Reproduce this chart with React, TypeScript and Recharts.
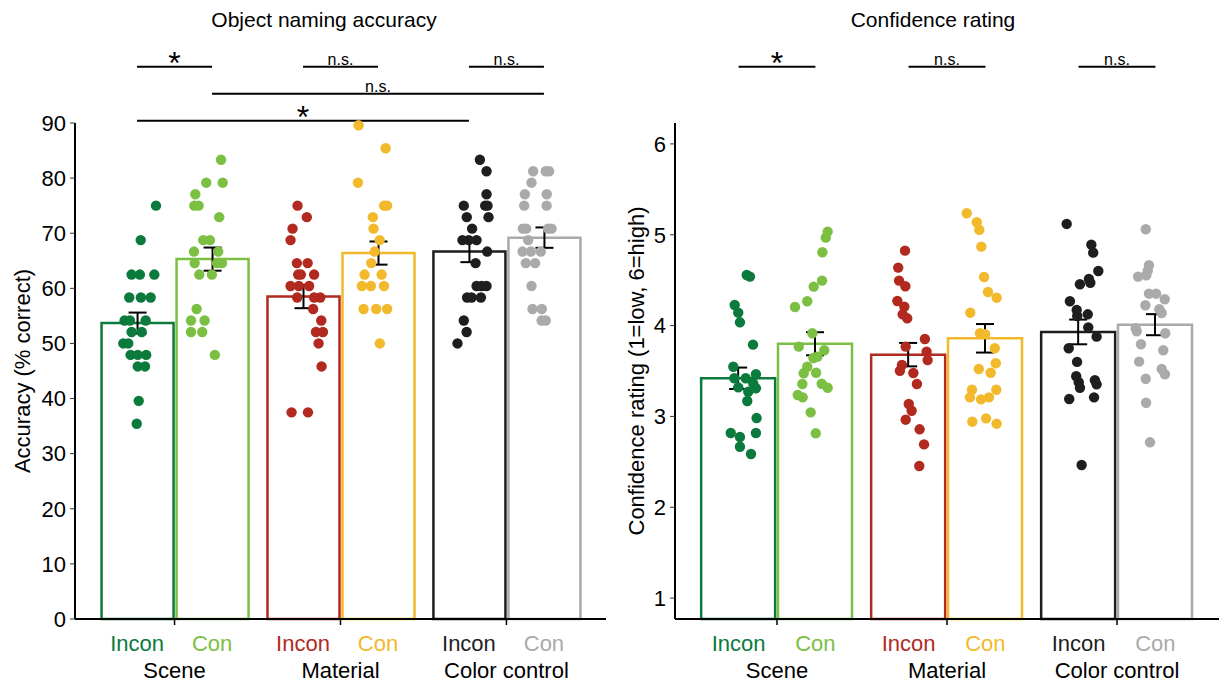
import React from 'react'
import { ComposedChart, Bar, Scatter, XAxis, YAxis, ErrorBar, Cell, ReferenceLine } from 'recharts'

const groups = ['Scene', 'Material', 'Color control']
const conditions = ['Incon', 'Con']
const barColors = ['#0b7a3d', '#7bc043', '#b1291f', '#f1b92b', '#1e1e1e', '#aaaaaa']

const accuracyMean = [53.7, 65.3, 58.5, 66.4, 66.7, 69.2]
const accuracySE = [1.9, 2.1, 2.1, 2.1, 1.95, 1.85]
const confidenceMean = [3.42, 3.8, 3.68, 3.86, 3.93, 4.01]
const confidenceSE = [0.118, 0.127, 0.129, 0.157, 0.136, 0.116]

const accuracyTicks = [0, 10, 20, 30, 40, 50, 60, 70, 80, 90]
const confidenceTicks = [1, 2, 3, 4, 5, 6]

// per bar: [jitter from bar centre, value]
const accuracyPoints: number[][][] = [
  [[0.114, 75], [0.022, 68.75], [-0.033, 62.5], [0.017, 62.5], [0.104, 62.5], [-0.047, 58.33], [0.023, 58.33], [0.082, 58.33],
    [-0.075, 54.17], [-0.043, 54.17], [0.052, 54.17], [-0.033, 52.08], [0.028, 52.08], [-0.083, 50], [-0.053, 50],
    [-0.039, 47.92], [0.004, 47.92], [0.055, 47.92], [0.004, 45.83], [0.048, 45.83], [0.01, 39.58], [-0.002, 35.42]],
  [[0.054, 83.33], [-0.035, 79.17], [0.064, 79.17], [-0.101, 77.08], [-0.107, 75], [-0.081, 75], [0.043, 72.92],
    [-0.053, 68.75], [-0.013, 68.75], [-0.109, 66.67], [0.037, 66.67], [-0.105, 64.58], [0.03, 64.58], [0.06, 64.58],
    [-0.077, 62.5], [-0.001, 62.5], [-0.093, 56.25], [-0.127, 54.17], [-0.045, 54.17], [-0.127, 52.08], [-0.059, 52.08], [0.017, 47.92]],
  [[-0.033, 75], [0.023, 72.92], [-0.063, 70.83], [-0.075, 68.75], [-0.037, 64.58], [0.028, 64.58], [-0.029, 62.5], [-0.013, 62.5],
    [0.067, 62.5], [-0.075, 60.42], [-0.025, 60.42], [0.037, 60.42], [-0.035, 58.33], [0.067, 58.33], [0.104, 58.33],
    [0.061, 56.25], [0.11, 54.17], [0.078, 52.08], [0.12, 52.08], [0.094, 50], [0.112, 45.83], [-0.069, 37.5], [0.03, 37.5]],
  [[-0.117, 89.58], [0.046, 85.42], [-0.121, 79.17], [0.037, 75], [0.055, 75], [-0.031, 72.92], [-0.027, 70.83], [0.01, 68.75],
    [-0.02, 66.67], [-0.041, 64.58], [-0.081, 62.5], [0.022, 62.5], [-0.097, 60.42], [-0.043, 60.42], [0.036, 60.42],
    [-0.087, 56.25], [-0.011, 56.25], [0.055, 56.25], [0.011, 50]],
  [[0.066, 83.33], [0.106, 81.25], [0.106, 77.08], [-0.031, 75], [0.098, 75], [0.112, 75], [-0.013, 72.92], [0.118, 72.92],
    [0.019, 70.83], [-0.039, 68.75], [-0.001, 68.75], [0.046, 68.75], [0.11, 66.67], [0.04, 64.58], [0.046, 60.42],
    [0.076, 60.42], [0.106, 60.42], [-0.011, 58.33], [0.016, 58.33], [0.072, 58.33], [-0.031, 54.17], [-0.014, 52.08], [-0.069, 50]],
  [[-0.065, 81.25], [0.011, 81.25], [0.031, 81.25], [-0.075, 79.17], [-0.115, 77.08], [0.017, 77.08], [-0.119, 75], [0.016, 75],
    [-0.127, 70.83], [-0.107, 70.83], [0.025, 70.83], [0.046, 70.83], [-0.095, 68.75], [-0.129, 66.67], [-0.079, 66.67],
    [-0.019, 66.67], [-0.109, 64.58], [-0.053, 64.58], [-0.075, 60.42], [-0.069, 56.25], [-0.013, 56.25], [-0.014, 54.17], [0.011, 54.17]],
]

const confidencePoints: number[][][] = [
  [[0.048, 4.557], [0.067, 4.539], [-0.023, 4.227], [-0.002, 4.142], [0.008, 4.036], [0.085, 3.79], [-0.031, 3.547],
    [-0.025, 3.42], [0.042, 3.42], [0.102, 3.464], [-0.002, 3.32], [0.057, 3.272], [0.102, 3.31], [0.086, 3.364],
    [0.051, 3.17], [0.106, 2.982], [-0.046, 2.817], [0.008, 2.773], [0.102, 2.817], [0.008, 2.666], [0.073, 2.586]],
  [[0.072, 5.034], [0.061, 4.968], [0.041, 4.807], [0.039, 4.495], [-0.01, 4.429], [-0.048, 4.268], [-0.12, 4.205],
    [-0.018, 3.915], [-0.098, 3.768], [0.052, 3.728], [-0.012, 3.643], [0.011, 3.657], [-0.048, 3.547], [-0.069, 3.475],
    [0.004, 3.481], [-0.077, 3.357], [0.037, 3.36], [0.072, 3.316], [-0.104, 3.236], [-0.075, 3.21], [-0.028, 3.045], [0.002, 2.814]],
  [[-0.021, 4.825], [-0.061, 4.638], [-0.056, 4.495], [-0.019, 4.433], [-0.066, 4.271], [-0.025, 4.208], [-0.035, 4.124],
    [-0.008, 4.08], [0.096, 3.852], [-0.017, 3.768], [0.106, 3.713], [0.112, 3.62], [-0.039, 3.566], [-0.051, 3.503],
    [0.028, 3.478], [0.049, 3.357], [0.001, 3.137], [0.018, 3.063], [-0.017, 2.964], [0.065, 2.858], [0.091, 2.692], [0.063, 2.454]],
  [[-0.11, 5.237], [-0.051, 5.138], [-0.036, 5.053], [-0.024, 4.869], [-0.008, 4.535], [0.015, 4.37], [0.066, 4.307],
    [-0.089, 4.142], [-0.032, 3.915], [-0.002, 3.904], [0.055, 3.75], [0.061, 3.585], [-0.039, 3.522], [0.031, 3.481],
    [-0.079, 3.294], [-0.091, 3.21], [0.064, 3.294], [0.021, 3.21], [-0.026, 3.188], [-0.077, 2.942], [0.004, 2.979], [0.066, 2.92]],
  [[-0.07, 5.119], [0.075, 4.891], [0.086, 4.803], [0.116, 4.601], [0.061, 4.513], [0.069, 4.472], [0.008, 4.455],
    [-0.051, 4.268], [-0.011, 4.172], [-0.008, 4.106], [0.054, 4.124], [0.057, 3.98], [0.106, 3.878], [-0.058, 3.75],
    [-0.009, 3.6], [-0.014, 3.442], [0.001, 3.376], [0.008, 3.316], [0.096, 3.398], [0.106, 3.353], [-0.055, 3.192],
    [0.091, 3.21], [0.018, 2.465]],
  [[-0.057, 5.06], [-0.038, 4.664], [-0.045, 4.605], [-0.102, 4.539], [-0.054, 4.554], [-0.038, 4.351], [0.004, 4.351],
    [0.055, 4.29], [-0.059, 4.224], [0.023, 4.18], [0.037, 4.139], [-0.116, 3.97], [-0.11, 3.937], [0.058, 3.915],
    [-0.085, 3.794], [0.046, 3.728], [-0.096, 3.603], [0.037, 3.522], [0.056, 3.464], [-0.057, 3.415], [-0.055, 3.151], [-0.032, 2.715]],
]

// [from bar, to bar, label, level]
type Sig = [number, number, string, number]
const accuracySig: Sig[] = [
  [0, 1, '*', 100.2], [2, 3, 'n.s.', 100.2], [4, 5, 'n.s.', 100.2],
  [1, 5, 'n.s.', 95.3], [0, 4, '*', 90.4],
]
const confidenceSig: Sig[] = [
  [0, 1, '*', 6.85], [2, 3, 'n.s.', 6.85], [4, 5, 'n.s.', 6.85],
]

const HALF = 0.226
const barX = (i: number) => Math.floor(i / 2) + 1 + (i % 2 === 0 ? -HALF : HALF)
const X_DOMAIN: [number, number] = [0.4, 3.6]

interface PanelProps {
  width: number
  margin: { top: number; right: number; bottom: number; left: number }
  yWidth: number
  domain: [number, number]
  ticks: number[]
  means: number[]
  ses: number[]
  points: number[][][]
  sig: Sig[]
  yLabel: string
  labelDx: number
  barSize: number
}

function Panel({ width, margin, yWidth, domain, ticks, means, ses, points, sig, yLabel, labelDx, barSize }: PanelProps) {
  const rows = means.map((m, i) => ({ x: barX(i), y: m, se: ses[i] }))
  const groupX = groups.map((_, g) => g + 1)
  const labelTicks = [...rows.map((r) => r.x), ...groupX]

  const XTick = (props: any) => {
    const { x, y, payload } = props
    const v = payload.value
    const bi = rows.findIndex((r) => Math.abs(r.x - v) < 1e-6)
    if (bi >= 0) {
      return (
        <text x={x} y={y} dy={26} textAnchor="middle" fill={barColors[bi]} fontSize={22}>
          {conditions[bi % 2]}
        </text>
      )
    }
    const gi = groupX.findIndex((g) => Math.abs(g - v) < 1e-6)
    return (
      <g>
        <line x1={x} x2={x} y1={y - 6} y2={y} stroke="#000" strokeWidth={1.5} />
        <text x={x} y={y} dy={53} textAnchor="middle" fill="#000" fontSize={22}>
          {groups[gi]}
        </text>
      </g>
    )
  }

  return (
    <ComposedChart width={width} height={682} data={rows} margin={margin}>
      <XAxis
        xAxisId="a_labels"
        type="number"
        dataKey="x"
        domain={X_DOMAIN}
        ticks={labelTicks}
        interval={0}
        tick={XTick}
        tickLine={false}
        tickSize={6}
        tickMargin={0}
        height={63}
        axisLine={{ stroke: '#000', strokeWidth: 2 }}
      />
      <XAxis xAxisId="b_bars" type="number" dataKey="x" domain={X_DOMAIN} height={0} hide />
      <XAxis xAxisId="c_err" type="number" dataKey="x" domain={X_DOMAIN} height={0} hide />
      <YAxis
        type="number"
        dataKey="y"
        domain={domain}
        ticks={ticks}
        interval={0}
        width={yWidth}
        tick={{ fill: '#000', fontSize: 22 }}
        tickLine={{ stroke: '#333', strokeWidth: 1 }}
        tickSize={5}
        tickMargin={4}
        axisLine={{ stroke: '#000', strokeWidth: 2 }}
        label={{ value: yLabel, angle: -90, position: 'center', dx: labelDx, fontSize: 22, fill: '#000' }}
      />

      <Bar xAxisId="b_bars" dataKey="y" barSize={barSize} fill="#fff" strokeWidth={2.5} isAnimationActive={false}>
        {rows.map((_, i) => (
          <Cell key={i} stroke={barColors[i]} />
        ))}
      </Bar>

      {points.map((pts, i) => (
        <Scatter
          key={i}
          xAxisId="a_labels"
          data={pts.map(([dx, v]) => ({ x: rows[i].x + dx, y: v }))}
          fill={barColors[i]}
          isAnimationActive={false}
          shape={(p: any) => <circle cx={p.cx} cy={p.cy} r={5.2} fill={barColors[i]} />}
        />
      ))}

      <Bar xAxisId="c_err" dataKey="y" barSize={barSize} fill="none" stroke="none" isAnimationActive={false} {...({ zIndex: 700 } as any)}>
        <ErrorBar dataKey="se" width={9} stroke="#000" strokeWidth={2} />
      </Bar>

      {sig.map(([a, b, text, level], i) => (
        <ReferenceLine
          key={i}
          xAxisId="a_labels"
          segment={[{ x: rows[a].x, y: level }, { x: rows[b].x, y: level }]}
          ifOverflow="visible"
          stroke="#000"
          strokeWidth={2}
          label={
            text === '*'
              ? { value: text, position: 'center', fontSize: 32, dy: -4, fill: '#000' }
              : { value: text, position: 'top', offset: 2, fontSize: 16, fill: '#000' }
          }
        />
      ))}
    </ComposedChart>
  )
}

const titleStyle: React.CSSProperties = {
  position: 'absolute',
  top: 8,
  width: 400,
  textAlign: 'center',
  fontSize: 21,
  lineHeight: '24px',
  color: '#000',
}

export default function App() {
  return (
    <div
      style={{
        position: 'absolute',
        left: 0,
        top: 0,
        width: 1227,
        height: 682,
        background: '#fff',
        fontFamily: '"Liberation Sans", Arial, sans-serif',
        overflow: 'hidden',
      }}
    >
      <div style={{ position: 'absolute', left: 0, top: 0 }}>
        <Panel
          width={620}
          margin={{ top: 123, right: 14, bottom: 0, left: 15 }}
          yWidth={60}
          domain={[0, 90]}
          ticks={accuracyTicks}
          means={accuracyMean}
          ses={accuracySE}
          points={accuracyPoints}
          sig={accuracySig}
          yLabel="Accuracy (% correct)"
          labelDx={-23}
          barSize={72}
        />
      </div>
      <div style={{ position: 'absolute', left: 620, top: 0 }}>
        <Panel
          width={607}
          margin={{ top: 123, right: 8, bottom: 0, left: 10 }}
          yWidth={45}
          domain={[0.77, 6.23]}
          ticks={confidenceTicks}
          means={confidenceMean}
          ses={confidenceSE}
          points={confidencePoints}
          sig={confidenceSig}
          yLabel="Confidence rating (1=low, 6=high)"
          labelDx={-16.5}
          barSize={74}
        />
      </div>
      <div style={{ ...titleStyle, left: 124 }}>Object naming accuracy</div>
      <div style={{ ...titleStyle, left: 733 }}>Confidence rating</div>
    </div>
  )
}
